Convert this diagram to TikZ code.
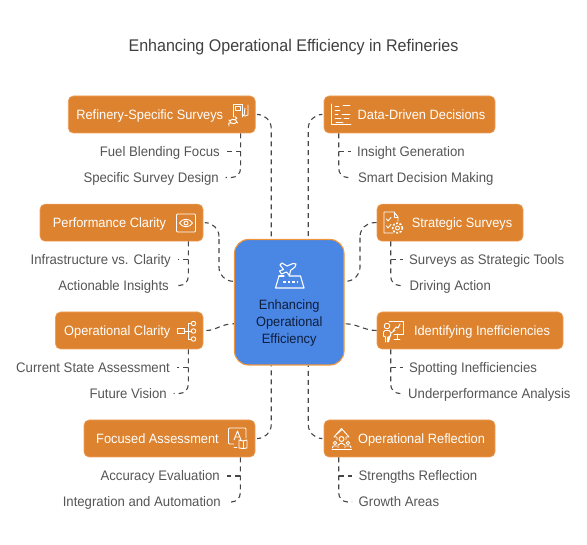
\documentclass[tikz,border=0pt]{standalone}
\usepackage{fontspec}
\setmainfont[FakeStretch=0.95]{Liberation Sans}
\usetikzlibrary{calc}
\definecolor{boxorange}{RGB}{221,130,46}
\definecolor{boxedge}{RGB}{240,160,90}
\definecolor{hubblue}{RGB}{74,134,228}
\definecolor{hubedge}{RGB}{240,150,60}
\definecolor{linkgray}{RGB}{70,70,70}
\definecolor{itemgray}{RGB}{85,85,85}
\definecolor{hubink}{RGB}{14,30,60}
\newcommand{\iconroom}{\rule{24pt}{0pt}}
\tikzset{
	topicbox/.style={rectangle, rounded corners=5pt, fill=boxorange, draw=boxedge, line width=0.6pt, minimum height=37pt, inner sep=0pt, text=white, text height=10.5pt, text depth=0pt, font=\fontsize{13.5}{16}\selectfont},
	itemtext/.style={inner sep=0pt, text=itemgray, text height=10pt, text depth=0pt, font=\fontsize{13.85}{16}\selectfont},
	dashlink/.style={draw=linkgray, line width=1.1pt, dash pattern=on 5pt off 4pt, rounded corners=14pt},
	itemlink/.style={dashlink, rounded corners=9pt, shorten >=6.5pt},
	iconline/.style={draw=white, line width=0.9pt, line join=round, line cap=round},
	treedot/.style={circle, draw=white, line width=0.9pt, minimum size=4.5pt, inner sep=0pt}
}
\begin{document}
\begin{tikzpicture}[x=1pt, y=-1pt]
	\useasboundingbox (0,0) rectangle (587,545);
	\node (title) at (293.5,47.5) [text=black!75, font=\fontsize{16.9}{20}\selectfont] {Enhancing Operational Efficiency in Refineries};

	% centre
	\node (hub) at (289.25,302.25) [rectangle, rounded corners=14pt, fill=hubblue, draw=hubedge, line width=1.1pt, minimum width=109.5pt, minimum height=125.5pt] {};
	\node (hubtext) at (289.25,323) [align=center, text=hubink, font=\fontsize{13.5}{17}\selectfont] {Enhancing\\Operational\\Efficiency};
	\coordinate (hubnw) at ($(hub.north)+(-18,0)$);
	\coordinate (hubne) at ($(hub.north)+(19,0)$);
	\coordinate (hubsw) at ($(hub.south)+(-18,0)$);
	\coordinate (hubse) at ($(hub.south)+(19,0)$);
	\coordinate (hubwu) at ($(hub.west)+(0,-21)$);
	\coordinate (hubwd) at ($(hub.west)+(0,21.5)$);
	\coordinate (hubeu) at ($(hub.east)+(0,-21)$);
	\coordinate (hubed) at ($(hub.east)+(0,21.5)$);

	% topic boxes
	\node (refinery) at (161.75,114.5) [topicbox, minimum width=187pt] {Refinery-Specific Surveys\iconroom};
	\node (performance) at (121.5,222.7) [topicbox, minimum width=163pt] {Performance Clarity\iconroom};
	\node (opclarity) at (129.25,330.5) [topicbox, minimum width=147.5pt] {Operational Clarity\iconroom};
	\node (focused) at (169.5,438.5) [topicbox, minimum width=171pt] {Focused Assessment\iconroom};
	\node (datadriven) at (409.5,114.5) [topicbox, minimum width=171pt] {\iconroom Data-Driven Decisions};
	\node (strategic) at (450,222.7) [topicbox, minimum width=146pt] {\iconroom Strategic Surveys};
	\node (identify) at (470,330.5) [topicbox, minimum width=186pt] {\iconroom Identifying Inefficiencies};
	\node (reflect) at (409.5,438.5) [topicbox, minimum width=171pt] {\iconroom Operational Reflection};

	% items
	\node (fuel) at (220,151.5) [itemtext, anchor=east] {Fuel Blending Focus};
	\node (design) at (219,177.5) [itemtext, anchor=east] {Specific Survey Design};
	\node (infra) at (171,259.5) [itemtext, anchor=east] {Infrastructure vs. Clarity};
	\node (action) at (169,285.5) [itemtext, anchor=east] {Actionable Insights};
	\node (current) at (170,367.5) [itemtext, anchor=east] {Current State Assessment};
	\node (future) at (167,393.5) [itemtext, anchor=east] {Future Vision};
	\node (accuracy) at (220,476) [itemtext, anchor=east] {Accuracy Evaluation};
	\node (integr) at (221,502) [itemtext, anchor=east] {Integration and Automation};
	\node (insight) at (357,151.5) [itemtext, anchor=west] {Insight Generation};
	\node (smart) at (358,177.5) [itemtext, anchor=west] {Smart Decision Making};
	\node (tools) at (409,259.5) [itemtext, anchor=west] {Surveys as Strategic Tools};
	\node (driving) at (409.5,285.5) [itemtext, anchor=west] {Driving Action};
	\node (spotting) at (409,367.5) [itemtext, anchor=west] {Spotting Inefficiencies};
	\node (under) at (408,393.5) [itemtext, anchor=west] {Underperformance Analysis};
	\node (strength) at (358.5,476) [itemtext, anchor=west] {Strengths Reflection};
	\node (growth) at (358.5,502) [itemtext, anchor=west] {Growth Areas};

	% stems
	\coordinate (refstem) at ($(refinery.south east)+(-15,0)$);
	\coordinate (perfstem) at ($(performance.south east)+(-15,0)$);
	\coordinate (clarstem) at ($(opclarity.south east)+(-15,0)$);
	\coordinate (focstem) at ($(focused.south east)+(-15,0)$);
	\coordinate (datastem) at ($(datadriven.south west)+(15,0)$);
	\coordinate (stratstem) at ($(strategic.south west)+(14,0)$);
	\coordinate (identstem) at ($(identify.south west)+(14,0)$);
	\coordinate (reflstem) at ($(reflect.south west)+(15,0)$);
	\coordinate (perfmid) at (219,250);
	\coordinate (stratmid) at (360,250);

	% links to the centre
	\draw[dashlink, shorten <=3pt] (refinery.east) -| (hubnw);
	\draw[dashlink, shorten <=3pt] (datadriven.west) -| (hubne);
	\draw[dashlink, shorten <=3pt] (performance.east) -| (perfmid) |- (hubwu);
	\draw[dashlink] (strategic.west) -| (stratmid) |- (hubeu);
	\draw[dashlink, shorten <=3pt] (opclarity.east) to[out=0, in=180] (hubwd);
	\draw[dashlink] (identify.west) to[out=180, in=0] (hubed);
	\draw[dashlink, shorten <=3pt] (focused.east) -| (hubsw);
	\draw[dashlink, shorten <=3pt] (reflect.west) -| (hubse);

	% links to the items
	\draw[itemlink] (refstem) |- (design.east);
	\draw[itemlink] (refstem |- fuel.east) -- (fuel.east);
	\draw[itemlink] (perfstem) |- (action.east);
	\draw[itemlink] (perfstem |- infra.east) -- (infra.east);
	\draw[itemlink] (clarstem) |- (future.east);
	\draw[itemlink] (clarstem |- current.east) -- (current.east);
	\draw[itemlink] (focstem) |- (integr.east);
	\draw[itemlink] (focstem |- accuracy.east) -- (accuracy.east);
	\draw[itemlink] (datastem) |- (smart.west);
	\draw[itemlink] (datastem |- insight.west) -- (insight.west);
	\draw[itemlink] (stratstem) |- (driving.west);
	\draw[itemlink] (stratstem |- tools.west) -- (tools.west);
	\draw[itemlink] (identstem) |- (under.west);
	\draw[itemlink] (identstem |- spotting.west) -- (spotting.west);
	\draw[itemlink] (reflstem) |- (growth.west);
	\draw[itemlink] (reflstem |- strength.west) -- (strength.west);

	% icons
	% hub: plane over runway
	\begin{scope}[shift={(275,262)}, iconline, line width=1.1pt]
		\draw (4,14) -- (0.5,26) -- (29,26) -- (25.5,14) -- (14,14);
		\draw (4,14) -- (9,14);
		\draw[dash pattern=on 2.5pt off 2pt, line cap=butt] (8,20) -- (22,20);
		\draw (7,1) -- (12,4) -- (18,1.5) -- (21,2) -- (20,5) -- (15.5,8.5) -- (14.5,13.5) -- (11.5,10) -- (6.5,12) -- (4.5,9) -- (8.5,7.5) -- (5,3) -- cycle;
	\end{scope}
	% pump
	\begin{scope}[shift={(228,103)}, iconline]
		\draw (5,14) -- (5,1) -- (14,1) -- (14,14);
		\draw (7,3.5) rectangle (12,7);
		\draw (14,11) -- (16,13) -- (17,5) (20,2) -- (20,12) -- (17,13);
		\draw (1,17) arc[start angle=170, end angle=40, radius=4.5];
		\draw (9.5,20) arc[start angle=-10, end angle=-140, radius=4.5];
		\draw (7,13.5) -- (9,15.5) -- (6.5,16.5) (1,23) -- (0.8,20) -- (3.5,20);
	\end{scope}
	% eye
	\begin{scope}[shift={(176.5,214)}, iconline]
		\draw[rounded corners=1pt] (0,0) rectangle (19,18);
		\draw (3,9) .. controls (6,4) and (13,4) .. (16,9) .. controls (13,14) and (6,14) .. (3,9);
		\draw (9.5,9) circle (2pt);
	\end{scope}
	% chart
	\begin{scope}[shift={(331,104)}, iconline]
		\draw (0.5,0) -- (0.5,20.5) -- (20,20.5);
		\draw (4,2) -- (8,2) (12,1.5) -- (19,1.5);
		\draw (4,6) -- (9,6) (4,10) -- (7,10) (11,10) -- (19,10);
		\draw (4,14) -- (10,14) (13,14) -- (18,14) (5,18) -- (12,18);
	\end{scope}
	% checklist and gear
	\begin{scope}[shift={(383,212)}, iconline]
		\draw (10,21) -- (1,21) -- (1,0) -- (11,0) -- (15,5) -- (15,9);
		\draw (11,0) -- (11,5) -- (15,5);
		\draw (3.5,7) -- (5,9) -- (8,5.5) (3.5,14) -- (5,16) -- (8,12.5);
		\draw (14.5,16) circle (2pt);
		\draw[dash pattern=on 2pt off 1.6pt, line width=1.6pt, line cap=butt] (14.5,16) circle (5pt);
	\end{scope}
	% tree
	\begin{scope}[shift={(177,321)}, iconline]
		\draw (0,7.5) rectangle (7,12.5);
		\draw (7,10) -- (14,10);
		\draw (14.5,2.5) -- (11,2.5) -- (11,18) -- (14.5,18);
		\node (treeone) at (16.5,2.5) [treedot] {};
		\node (treetwo) at (16.5,10) [treedot] {};
		\node (treethree) at (16.5,18) [treedot] {};
	\end{scope}
	% screen and book
	\begin{scope}[shift={(228,428)}, iconline]
		\draw (6,16) -- (1.5,16) -- (0.5,15) -- (0.5,1) -- (1.5,0) -- (17,0) -- (18,1) -- (18,10);
		\draw (6,12) -- (9.5,3) -- (13,12) (7.3,9) -- (11.7,9);
		\draw (11,12) -- (15,13) -- (19,12) -- (19,20) -- (15,20.5) -- (11,20) -- cycle;
		\draw (15,13) -- (15,20.5);
		\draw (6,19) -- (9,19);
	\end{scope}
	% person and board
	\begin{scope}[shift={(383,320)}, iconline]
		\draw (6,1) -- (20,1) -- (20,14) -- (11,14);
		\draw (10,11) -- (13,7) -- (15,8) -- (17,4);
		\draw (14,14) -- (14,19) (11,19) -- (17,19);
		\draw (4,6) circle (2.8pt);
		\draw (2.5,22) -- (2.5,17) -- (0.5,16) -- (0.5,12) -- (2,10.5) -- (6,10.5) -- (8,13) -- (12,10.5);
		\draw (8,13) -- (7.5,16) -- (5.5,17) -- (5.5,22) -- cycle;
		\draw (4,17) -- (4,22);
	\end{scope}
	% arrow and people
	\begin{scope}[shift={(332,428)}, iconline]
		\draw (2,9) -- (9.5,0.5) -- (17,9) -- (14,9) (2,9) -- (5,9) -- (5,12);
		\draw (14,9) -- (14,12) (5,6) -- (9.5,2);
		\draw (9.5,11) circle (2.5pt);
		\draw (6,20) -- (6,17) -- (9.5,15) -- (13,17) -- (13,20);
		\draw (3,15) circle (1.8pt) (16,15) circle (1.8pt);
		\draw (0.5,20) -- (1,18) -- (5,18) (19,20) -- (18.5,18) -- (14,18);
		\draw (0,21) -- (19.5,21);
	\end{scope}
\end{tikzpicture}
\end{document}
